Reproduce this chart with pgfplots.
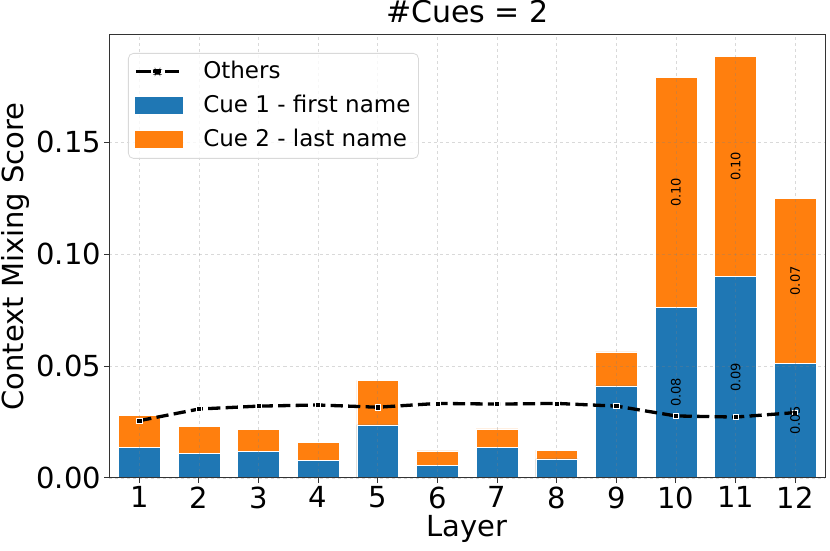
\documentclass[border=0pt]{standalone}
\usepackage{pgfplots}
\pgfplotsset{compat=1.18}
\usepackage{pgfplotstable}
\usepackage{fontspec}
\setmainfont{DejaVu Sans}
\definecolor{c1}{HTML}{1F77B4}
\definecolor{c2}{HTML}{FF7F0E}
\pgfplotstableread{
x blue orange others
1 0.0135 0.0143 0.0256
2 0.0109 0.0120 0.0308
3 0.0117 0.0100 0.0321
4 0.0080 0.0078 0.0326
5 0.0237 0.0199 0.0316
6 0.0058 0.0063 0.0333
7 0.0135 0.0084 0.0330
8 0.0085 0.0040 0.0333
9 0.0411 0.0152 0.0321
10 0.0763 0.1024 0.0277
11 0.0900 0.0984 0.0272
12 0.0513 0.0734 0.0292
}\data
\pgfplotstableread{
x y lab
10 0.0382 0.08
10 0.1275 0.10
11 0.0450 0.09
11 0.1392 0.10
12 0.0257 0.05
12 0.0880 0.07
}\labels
\begin{document}
\begin{tikzpicture}
\begin{axis}[
  scale only axis, width=715.5pt, height=443pt,
  xmin=0.5, xmax=12.5, ymin=0, ymax=0.1978,
  ybar, bar width=0.7, bar shift=0pt,
  xtick={1,2,3,4,5,6,7,8,9,10,11,12},
  ytick={0,0.05,0.10,0.15},
  yticklabel style={/pgf/number format/.cd, fixed, fixed zerofill, precision=2},
  /pgf/number format/assume math mode=true,
  tick label style={font=\fontsize{29}{34}\selectfont},
  label style={font=\fontsize{29}{34}\selectfont},
  xlabel={Layer}, ylabel={Context Mixing Score},
  title={\fontsize{30}{36}\selectfont\#Cues = 2},
  title style={at={(0.5,1)}, anchor=south, inner sep=0pt, yshift=6pt},
  tick align=outside, tick pos=left, major tick length=5pt,
  tick style={black!80, line width=1pt},
  axis line style={black!80, line width=1pt},
  grid=major, grid style={dashed, gray, opacity=0.3, line width=0.7pt},
  axis on top,
  legend cell align=left,
  legend style={at={(0,1)}, anchor=north west, xshift=18.5pt, yshift=-18pt,
    draw=black!15, line width=0.8pt, rounded corners=5pt, fill=white, fill opacity=0.8, text opacity=1,
    font=\fontsize{23}{28}\selectfont, row sep=7pt, inner xsep=6pt, inner ysep=5pt,
    nodes={inner sep=2pt, text height=18pt, text depth=5pt},
    /tikz/every even column/.append style={column sep=0pt},
    /tikz/every odd column/.append style={column sep=18pt}},
]
\addlegendimage{legend image code/.code={
   \draw[black, sharp corners, draw opacity=1, line width=3pt] (0pt,0pt) -- (15pt,0pt);
   \draw[black, sharp corners, draw opacity=1, line width=3pt] (17.5pt,0pt) -- (25.5pt,0pt);
   \draw[black, sharp corners, draw opacity=1, line width=3pt] (29pt,0pt) -- (43pt,0pt);
   \fill[black, fill opacity=1] (19.3pt,-2.3pt) rectangle (23.9pt,2.3pt);}}
\addlegendentry{Others}
\addlegendimage{legend image code/.code={\fill[c1, sharp corners, fill opacity=1] (0pt,-8pt) rectangle (47pt,8pt);}}
\addlegendentry{Cue 1 - first name}
\addlegendimage{legend image code/.code={\fill[c2, sharp corners, fill opacity=1] (0pt,-8pt) rectangle (47pt,8pt);}}
\addlegendentry{Cue 2 - last name}

\addplot[forget plot, fill=c2, draw=white, line width=0.6pt] table[x=x, y expr=\thisrow{blue}+\thisrow{orange}]{\data};
\addplot[forget plot, fill=c1, draw=white, line width=0.6pt] table[x=x, y=blue]{\data};
\addplot[forget plot, sharp plot, black, line width=3.3pt, dash pattern=on 12.2pt off 5.3pt,
  mark=square*, mark size=2.6pt, mark options={solid, fill=black, draw=white, line width=0.6pt}]
  table[x=x, y=others]{\data};
\addplot[forget plot, only marks, mark=none, nodes near coords, point meta=explicit symbolic,
  nodes near coords align={center},
  nodes near coords style={rotate=90, font=\fontsize{13}{15}\selectfont, anchor=center, inner sep=0pt, black}]
  table[x=x, y=y, meta=lab]{\labels};
\end{axis}
\pgfresetboundingbox
\path ([xshift=-109.5pt,yshift=-73pt]current axis.south west) rectangle ([xshift=5pt,yshift=35pt]current axis.north east);
\end{tikzpicture}
\end{document}
